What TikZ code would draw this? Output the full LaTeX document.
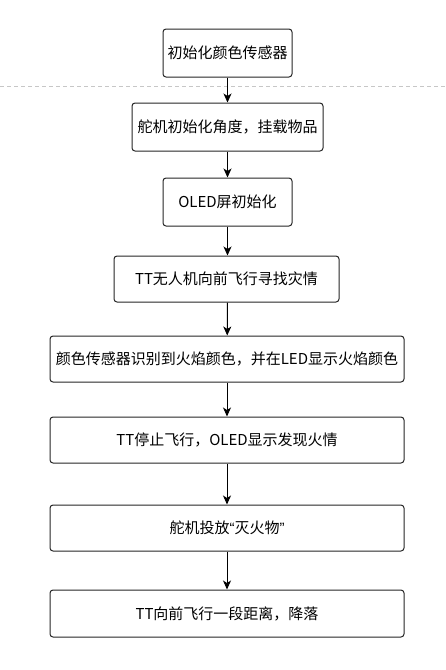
\documentclass[tikz,border=0pt]{standalone}
\usepackage{fontspec}
\setmainfont{Noto Sans CJK SC}
\newfontfamily\quotefont{Liberation Sans}
\usetikzlibrary{arrows.meta}
\begin{document}
\begin{tikzpicture}[x=1pt,y=-1pt,
    stepbox/.style={draw=black!85,line width=1pt,rounded corners=3pt,fill=white,
      inner sep=0pt,align=center,font=\fontsize{15}{18}\selectfont},
    flow/.style={-{Stealth[length=9pt,width=8pt,inset=2.5pt]},line width=1pt}]
      \useasboundingbox (0,0) rectangle (446,670);
      \draw [black!22,dashed,dash pattern=on 4pt off 3pt,line width=1pt] (0,86) -- (446,86);
      \node [stepbox,minimum width=129pt,minimum height=48pt] (init) at (227.5,53) {初始化颜色传感器};
      \node [stepbox,minimum width=191pt,minimum height=48pt] (servo) at (227.5,127) {舵机初始化角度，挂载物品};
      \node [stepbox,minimum width=129pt,minimum height=48pt] (oled) at (227.5,202) {OLED屏初始化};
      \node [stepbox,minimum width=225pt,minimum height=46pt] (fly) at (226.5,279) {TT无人机向前飞行寻找灾情};
      \node [stepbox,minimum width=354pt,minimum height=46pt] (detect) at (227,359) {颜色传感器识别到火焰颜色，并在LED显示火焰颜色};
      \node [stepbox,minimum width=354pt,minimum height=46pt] (stop) at (227,440) {TT停止飞行，OLED显示发现火情};
      \node [stepbox,minimum width=354pt,minimum height=46pt] (drop) at (227,528) {舵机投放{\quotefont “}灭火物{\quotefont ”}};
      \node [stepbox,minimum width=354pt,minimum height=47pt] (land) at (227,613.5) {TT向前飞行一段距离，降落};
      \draw [flow] (init) -- (servo);
      \draw [flow] (servo) -- (oled);
      \draw [flow] (oled) -- (oled |- fly.north);
      \draw [flow] (fly.south -| oled) -- (detect);
      \draw [flow] (detect) -- (stop);
      \draw [flow] (stop) -- (drop);
      \draw [flow] (drop) -- (land);
\end{tikzpicture}
\end{document}
